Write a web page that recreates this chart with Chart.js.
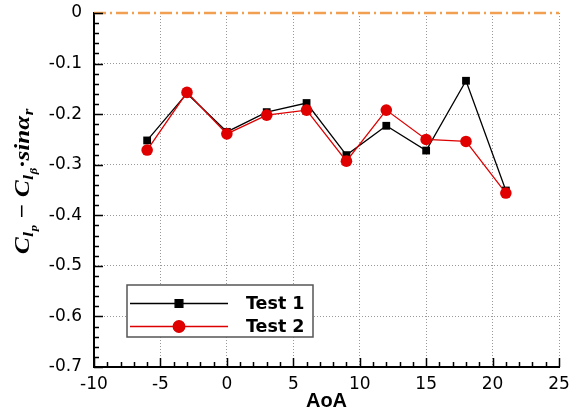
<!DOCTYPE html>
<html>
<head>
<meta charset="utf-8">
<script src="https://cdn.jsdelivr.net/npm/chart.js@4.4.1/dist/chart.umd.min.js"></script>
<style>
  html, body { margin: 0; padding: 0; background: #fff; }
  #wrap { width: 577px; height: 413px; }
</style>
</head>
<body>
<div id="wrap"><canvas id="myChart" width="577" height="413"></canvas></div>
<script>
// values
const aoa = [-6, -3, 0, 3, 6, 9, 12, 15, 18, 21];
const test1 = [-0.252, -0.159, -0.235, -0.196, -0.178, -0.281, -0.223, -0.272, -0.134, -0.351];
const test2 = [-0.271, -0.157, -0.239, -0.202, -0.192, -0.293, -0.192, -0.250, -0.254, -0.356];
const refLineX = [-10, 25];
const refLineY = [0, 0];
const xTicks = [-10, -5, 0, 5, 10, 15, 20, 25];
const yTicks = [0, -0.1, -0.2, -0.3, -0.4, -0.5, -0.6, -0.7];

const toPoints = (xs, ys) => xs.map((x, i) => ({ x: x, y: ys[i] }));

const SANS = '"Liberation Sans", Arial, sans-serif';
const WIDE = '"DejaVu Sans", sans-serif';
const SERIF = '"Liberation Serif", "DejaVu Serif", serif';

// little inward ticks like the original plot
const minorTicks = {
  id: "minorTicks",
  afterDatasetsDraw(chart) {
    const { ctx, chartArea } = chart;
    const xs = chart.scales.x;
    const ys = chart.scales.y;
    ctx.save();
    ctx.strokeStyle = "#000";
    ctx.lineWidth = 1.5;
    ctx.beginPath();
    for (let i = 0; i <= 35; i++) {
      const v = ys.min + i * 0.02;
      const y = Math.round(ys.getPixelForValue(v)) + 0.5;
      const len = i % 5 === 0 ? 9 : 5;
      ctx.moveTo(chartArea.left, y);
      ctx.lineTo(chartArea.left + len, y);
    }
    for (let i = 0; i <= 35; i++) {
      const v = xs.min + i;
      const x = Math.round(xs.getPixelForValue(v)) + 0.5;
      const len = i % 5 === 0 ? 9 : 5;
      ctx.moveTo(x, chartArea.bottom);
      ctx.lineTo(x, chartArea.bottom - len);
    }
    ctx.stroke();
    ctx.restore();
  },
};

// legend box inside the plot, lower left
const boxLegend = {
  id: "boxLegend",
  afterDraw(chart) {
    const { ctx } = chart;
    const left = 127, top = 285, right = 313, bottom = 337;
    ctx.save();
    ctx.fillStyle = "#fff";
    ctx.fillRect(left, top, right - left, bottom - top);
    ctx.strokeStyle = "#555";
    ctx.lineWidth = 1.5;
    ctx.strokeRect(left, top, right - left, bottom - top);
    const rows = chart.data.datasets.filter((d) => d.label);
    rows.forEach((ds, i) => {
      const y = 303.5 + i * 23;
      ctx.strokeStyle = ds.borderColor;
      ctx.lineWidth = ds.borderWidth;
      ctx.beginPath();
      ctx.moveTo(130, y);
      ctx.lineTo(228, y);
      ctx.stroke();
      Chart.helpers.drawPoint(ctx, {
        pointStyle: ds.pointStyle,
        radius: ds.pointRadius,
        borderWidth: 1,
      }, 179, y);
      ctx.fillStyle = ds.pointBackgroundColor;
      ctx.strokeStyle = ds.pointBorderColor;
      ctx.fill();
      ctx.fillStyle = "#000";
      ctx.font = "bold 17.5px " + WIDE;
      ctx.textBaseline = "middle";
      ctx.textAlign = "left";
      ctx.fillText(ds.label, 246, y + 1);
    });
    ctx.restore();
  },
};

// y axis title with sub/subscripts
const mathTitle = {
  id: "mathTitle",
  afterDraw(chart) {
    const { ctx } = chart;
    const big = "italic bold 22px " + SERIF;
    const sub = "italic bold 15px " + SERIF;
    const sub2 = "italic bold 11px " + SERIF;
    const parts = [
      ["C", big, 0], ["l", sub, 4], ["p", sub2, 8],
      [" \u2212 ", "bold 22px " + SERIF, 0],
      ["C", big, 0], ["l", sub, 4], ["\u03b2", sub2, 8],
      ["\u00b7", big, 0], ["sin\u03b1", big, 0], ["r", sub, 4],
    ];
    ctx.save();
    let total = 0;
    parts.forEach((p) => { ctx.font = p[1]; total += ctx.measureText(p[0]).width + 0.5; });
    const wanted = 146;
    ctx.translate(29, 181);
    ctx.rotate(-Math.PI / 2);
    ctx.scale(wanted / total, 1);
    ctx.fillStyle = "#000";
    ctx.textBaseline = "alphabetic";
    let x = -total / 2;
    parts.forEach((p) => {
      ctx.font = p[1];
      ctx.fillText(p[0], x, p[2]);
      x += ctx.measureText(p[0]).width + 0.5;
    });
    ctx.restore();
  },
};

const ctx = document.getElementById("myChart");
new Chart(ctx, {
  type: "line",
  data: {
    datasets: [
      {
        label: "Test 1",
        data: toPoints(aoa, test1),
        borderColor: "#000",
        borderWidth: 1.3,
        pointStyle: "rect",
        pointRadius: 5.5,
        pointBackgroundColor: "#000",
        pointBorderColor: "#000",
        pointBorderWidth: 0,
        order: 1,
      },
      {
        label: "Test 2",
        data: toPoints(aoa, test2),
        borderColor: "#dd0000",
        borderWidth: 1.3,
        pointStyle: "circle",
        pointRadius: 5.8,
        pointBackgroundColor: "#e00000",
        pointBorderColor: "#d00000",
        pointBorderWidth: 0,
        order: 0,
      },
      {
        label: "",
        data: toPoints(refLineX, refLineY),
        borderColor: "#f0a050",
        borderWidth: 2.5,
        borderDash: [12, 4, 2, 4],
        pointRadius: 0,
        clip: false,
        order: 2,
      },
    ],
  },
  options: {
    responsive: false,
    animation: false,
    layout: { padding: { top: 13, right: 18, left: 0, bottom: 0 } },
    plugins: {
      legend: { display: false },
      tooltip: { enabled: false },
    },
    scales: {
      x: {
        type: "linear",
        min: -10,
        max: 25,
        afterBuildTicks: (scale) => { scale.ticks = xTicks.map((v) => ({ value: v })); },
        afterFit: (scale) => {
          scale.height = 46;
          scale.paddingLeft = 0;
          scale.paddingRight = 0;
        },
        grid: { color: "#999", lineWidth: 1, drawTicks: false },
        border: { display: true, color: "#000", width: 2, dash: [1, 2] },
        ticks: {
          color: "#000",
          padding: 7,
          maxRotation: 0,
          font: { family: WIDE, size: 17 },
        },
        title: {
          display: true,
          text: "AoA",
          color: "#000",
          font: { family: SANS, size: 20, weight: "bold" },
          padding: { top: 0, bottom: 0 },
        },
      },
      y: {
        type: "linear",
        min: -0.7,
        max: 0,
        afterBuildTicks: (scale) => { scale.ticks = yTicks.map((v) => ({ value: v })); },
        afterFit: (scale) => {
          scale.width = 94;
          scale.paddingTop = 0;
          scale.paddingBottom = 0;
        },
        grid: {
          color: (c) => (c.tick && c.tick.value === 0 ? "rgba(0,0,0,0)" : "#999"),
          lineWidth: 1,
          drawTicks: false,
        },
        border: { display: true, color: "#000", width: 2, dash: [1, 2] },
        ticks: {
          color: "#000",
          padding: 12,
          font: { family: WIDE, size: 17 },
          callback: (v) => (Math.abs(v) < 1e-9 ? "0" : Number(v).toFixed(1)),
        },
      },
    },
  },
  plugins: [minorTicks, boxLegend, mathTitle],
});
</script>
</body>
</html>
